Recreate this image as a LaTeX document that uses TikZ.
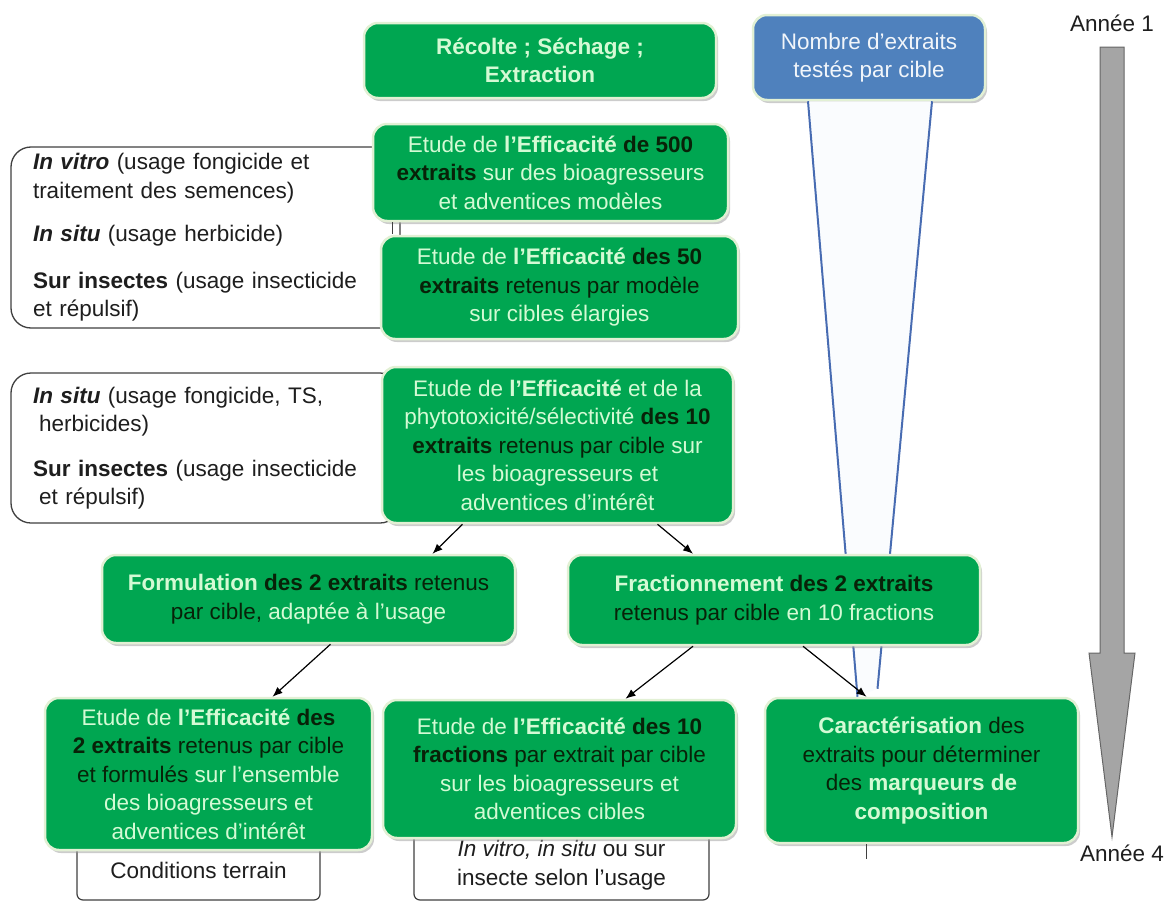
\documentclass[tikz,border=0pt]{standalone}
\usepackage{fontspec}
\setmainfont{Liberation Sans}
\usetikzlibrary{arrows.meta, shadows}

\definecolor{vert}{RGB}{0,166,81}
\definecolor{bordvert}{RGB}{226,240,212}
\definecolor{txtclair}{RGB}{212,250,212}
\definecolor{txtfonce}{RGB}{8,34,8}
\definecolor{txtnoir}{RGB}{30,30,30}
\definecolor{bleu}{RGB}{79,129,189}
\definecolor{bleutrait}{RGB}{72,108,178}
\definecolor{bleupale}{RGB}{250,252,254}
\definecolor{gristrait}{RGB}{64,64,64}
\definecolor{grisfleche}{RGB}{165,165,165}

\newcommand{\taille}{\fontsize{22.5}{28.5}\selectfont}
\newcommand{\fonce}[1]{\textcolor{txtfonce}{#1}}

\begin{document}
\begin{tikzpicture}[x=1pt, y=-1pt,
	every node/.style={font=\taille},
	greenbox/.style={rectangle, rounded corners=14pt, draw=bordvert, line width=2.5pt, fill=vert, text=txtclair, align=center, inner sep=0pt, drop shadow={shadow xshift=2pt, shadow yshift=-3pt, fill=black!40, opacity=0.5}},
	bluebox/.style={greenbox, fill=bleu, text=white!92!bleu},
	critbox/.style={rectangle, rounded corners=20pt, draw=gristrait, line width=1.3pt, fill=white, text=txtnoir, align=left, inner xsep=22pt, inner ysep=0pt, text width=345pt, minimum height=#1},
	condbox/.style={rectangle, rounded corners=6pt, draw=gristrait, line width=1.2pt, fill=white, text=txtnoir, align=center, inner sep=0pt},
	yearlbl/.style={text=txtnoir, inner sep=0pt},
	fleche/.style={->, line width=1.2pt, black},
	blueline/.style={line width=2pt, bleutrait},
	stub/.style={line width=1pt, gristrait},
	>={Latex[length=10pt, width=8pt]}
]
\useasboundingbox (0,0) rectangle (1170,902);

\node[critbox=181pt] (critA) at (205.5,237.5) {\textbf{\textit{In vitro}} (usage fongicide et\\traitement des semences)\\[15pt]\textbf{\textit{In situ}} (usage herbicide)\\[18pt]\textbf{Sur insectes} (usage insecticide\\et répulsif)};
\node[critbox=150pt] (critB) at (205.5,448) {\textbf{\textit{In situ}} (usage fongicide, TS,\\\hspace*{6pt}herbicides)\\[16pt]\textbf{Sur insectes} (usage insecticide\\\hspace*{6pt}et répulsif)};

\node[condbox, minimum width=243pt, minimum height=60pt] (terrain) at (198.5,870) {Conditions terrain};
\node[condbox, minimum width=295pt, minimum height=70pt] (usage) at (561.5,865) {\textit{In vitro, in situ} ou sur\\insecte selon l’usage};

\node[bluebox, minimum width=232pt, minimum height=85pt] (nombre) at (869,57.5) {Nombre d’extraits\\testés par cible};
\node[greenbox, minimum width=313pt, minimum height=145pt] (caract) at (921.5,770.5) {\textbf{Caractérisation} \fonce{des}\\\fonce{extraits pour déterminer}\\\fonce{des} \textbf{marqueurs de}\\\textbf{composition}};

\fill[bleupale] ([xshift=-61pt]nombre.south) -- ([xshift=63pt]nombre.south) -- ([xshift=-44pt, yshift=8pt]caract.north) -- ([xshift=-64pt]caract.north) -- cycle;
\draw[blueline] ([xshift=-61pt]nombre.south) -- ([xshift=-64pt]caract.north);
\draw[blueline] ([xshift=63pt]nombre.south) -- ([xshift=-44pt, yshift=8pt]caract.north);

\node[greenbox, minimum width=352pt, minimum height=75pt, font=\taille\bfseries] (recolte) at (540,60.5) {Récolte ; Séchage ;\\Extraction};
\node[greenbox, minimum width=355pt, minimum height=97pt] (eff500) at (550.5,172.5) {Etude de \textbf{l’Efficacité} \fonce{\textbf{de 500}}\\\fonce{\textbf{extraits}} sur des bioagresseurs\\et adventices modèles};
\node[greenbox, minimum width=357pt, minimum height=103pt] (eff50) at (559.5,287.5) {Etude de \textbf{l’Efficacité} \fonce{\textbf{des 50}}\\\fonce{\textbf{extraits} retenus par modèle}\\sur cibles élargies};
\node[greenbox, minimum width=351pt, minimum height=156pt] (eff10) at (557.5,445) {Etude de \textbf{l’Efficacité} et de la\\phytotoxicité/sélectivité \fonce{\textbf{des 10}}\\\fonce{\textbf{extraits} retenus par cible} sur\\les bioagresseurs et\\adventices d’intérêt};
\node[greenbox, minimum width=413pt, minimum height=88pt] (formul) at (308.5,599) {\textbf{Formulation} \fonce{\textbf{des 2 extraits} retenus}\\\fonce{par cible,} adaptée à l’usage};
\node[greenbox, minimum width=412pt, minimum height=90pt] (fraction) at (774,600) {\textbf{Fractionnement} \fonce{\textbf{des 2 extraits}}\\\fonce{retenus par cible} en 10 fractions};
\node[greenbox, minimum width=327pt, minimum height=152pt] (effform) at (208.5,774) {Etude de \textbf{l’Efficacité} \fonce{\textbf{des}}\\\fonce{\textbf{2 extraits} retenus par cible}\\\fonce{et formulés} sur l’ensemble\\des bioagresseurs et\\adventices d’intérêt};
\node[greenbox, minimum width=353pt, minimum height=138pt] (efffrac) at (559.5,769) {Etude de \textbf{l’Efficacité} \fonce{\textbf{des 10}}\\\fonce{\textbf{fractions} par extrait par cible}\\sur les bioagresseurs et\\adventices cibles};

\draw[stub] ([xshift=-158pt]eff500.south) -- ++(0,12);
\draw[stub] ([xshift=-55pt]caract.south) -- ++(0,15);

\draw[fleche] ([xshift=-95pt]eff10.south) -- ([xshift=124pt]formul.north);
\draw[fleche] ([xshift=100pt]eff10.south) -- ([xshift=-81pt]fraction.north);
\draw[fleche] ([xshift=22pt]formul.south) -- ([xshift=64pt]effform.north);
\draw[fleche] ([xshift=-81pt]fraction.south) -- ([xshift=66pt]efffrac.north);
\draw[fleche] ([xshift=29pt]fraction.south) -- ([xshift=-55pt]caract.north);

\node[yearlbl] (annee1) at (1112,23) {Année 1};
\node[yearlbl] (annee4) at (1122,853) {Année 4};
\draw[fill=grisfleche, draw=gristrait!80, line width=1pt] (1100,47) -- (1124,47) -- (1124,653) -- (1135,653) -- (1112,837) -- (1089,653) -- (1100,653) -- cycle;

\end{tikzpicture}
\end{document}
